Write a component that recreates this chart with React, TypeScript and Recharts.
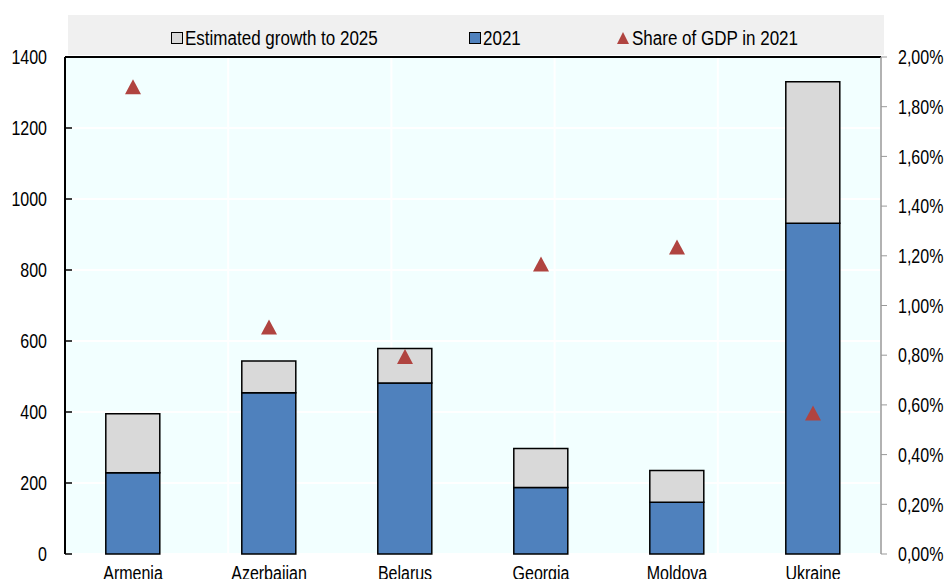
import { ComposedChart, Bar, Line, XAxis, YAxis, CartesianGrid, ReferenceLine } from 'recharts'

const countries = ['Armenia', 'Azerbaijan', 'Belarus', 'Georgia', 'Moldova', 'Ukraine']
const value2021 = [229, 454, 482, 187, 146, 932]
const growthTo2025 = [166, 90, 97, 110, 89, 398]
const gdpShare = [1.88, 0.913, 0.795, 1.167, 1.235, 0.567]

const leftTicks = [0, 200, 400, 600, 800, 1000, 1200, 1400]
const rightTicks = [0, 0.2, 0.4, 0.6, 0.8, 1.0, 1.2, 1.4, 1.6, 1.8, 2.0]
const boundaryTicks = [1, 2, 3, 4, 5]

const data = countries.map((c, i) => ({
  country: c,
  v2021: value2021[i],
  growth: growthTo2025[i],
  share: gdpShare[i],
}))

const FONT = '"Liberation Sans", Arial, sans-serif'
const SQUEEZE = 0.8
const BLUE = '#4f81bd'
const GREY = '#d9d9d9'
const RED = '#b04440'

const pct = (v: number) => v.toFixed(2).replace('.', ',') + '%'

// Arial Narrow look-alike: regular sans squeezed horizontally
function NarrowTick(props: any) {
  const { x, y, payload, textAnchor, fmt, dy } = props
  const label = fmt ? fmt(payload.value) : payload.value
  return (
    <text
      transform={`translate(${x},${y}) scale(${SQUEEZE},1)`}
      x={0}
      y={0}
      dy={dy ?? '0.36em'}
      textAnchor={textAnchor}
      fontFamily={FONT}
      fontSize={20}
      fill="#000"
    >
      {label}
    </text>
  )
}

const Blank = () => <g />

function Triangle(props: any) {
  const { cx, cy } = props
  if (cx == null || cy == null) return null
  return <path d={`M${cx - 8},${cy + 7.5} L${cx},${cy - 7.5} L${cx + 8},${cy + 7.5} Z`} fill={RED} />
}

function LegendItem({ left, icon, label }: { left: number; icon: any; label: string }) {
  return (
    <div style={{ position: 'absolute', left, top: 3, height: 40, display: 'flex', alignItems: 'center' }}>
      {icon}
      <span style={{ display: 'inline-block', transform: `scaleX(${SQUEEZE + 0.05})`, transformOrigin: 'left center', whiteSpace: 'nowrap' }}>
        {label}
      </span>
    </div>
  )
}

function Legend() {
  const box = (fill: string) => (
    <span style={{ width: 10, height: 10, background: fill, border: '1px solid #000', marginRight: 2 }} />
  )
  return (
    <div
      style={{
        position: 'absolute',
        left: 68,
        top: 15,
        width: 816,
        height: 40,
        background: '#f0f0f0',
        fontFamily: FONT,
        fontSize: 20,
        color: '#000',
      }}
    >
      <LegendItem left={103} icon={box(GREY)} label="Estimated growth to 2025" />
      <LegendItem left={401} icon={box(BLUE)} label="2021" />
      <LegendItem
        left={549}
        icon={
          <svg width={12} height={12} style={{ marginRight: 3 }}>
            <path d="M0,12 L6,0 L12,12 Z" fill={RED} />
          </svg>
        }
        label="Share of GDP in 2021"
      />
    </div>
  )
}

export default function App() {
  return (
    <div style={{ position: 'absolute', left: 0, top: 0, width: 946, height: 579, background: '#fff' }}>
      <ComposedChart
        width={946}
        height={579}
        data={data}
        margin={{ top: 57, right: 0, bottom: 0, left: 0 }}
        barCategoryGap="30%"
      >
        <CartesianGrid xAxisId="edge" yAxisId="left" stroke="#ffffff" strokeWidth={2} fill="#f2ffff" />
        <XAxis
          xAxisId="edge"
          type="number"
          domain={[0, 6]}
          ticks={boundaryTicks}
          height={0}
          tickSize={-5}
          tick={<Blank />}
          tickLine={{ stroke: '#000', strokeWidth: 1.5 }}
          axisLine={{ stroke: '#000', strokeWidth: 2 }}
        />
        <XAxis
          xAxisId="cat"
          dataKey="country"
          height={25}
          tickLine={false}
          axisLine={false}
          tickMargin={2}
          tick={<NarrowTick dy="0.9em" />}
          interval={0}
        />
        <YAxis
          yAxisId="left"
          width={65}
          domain={[0, 1400]}
          ticks={leftTicks}
          tickSize={-7}
          tickMargin={25}
          tick={<NarrowTick />}
          tickLine={{ stroke: '#000', strokeWidth: 1.5 }}
          axisLine={{ stroke: '#000', strokeWidth: 2 }}
        />
        <YAxis
          yAxisId="right"
          orientation="right"
          width={65}
          domain={[0, 2]}
          ticks={rightTicks}
          tickSize={6}
          tickMargin={11}
          tick={<NarrowTick fmt={pct} />}
          tickLine={{ stroke: '#999' }}
          axisLine={{ stroke: '#999', strokeWidth: 1.5 }}
        />
        <ReferenceLine xAxisId="cat" yAxisId="left" y={1400} stroke="#000" strokeWidth={2} />
        <Bar xAxisId="cat" yAxisId="left" dataKey="v2021" stackId="a" fill={BLUE} stroke="#000" strokeWidth={1.5} isAnimationActive={false} />
        <Bar xAxisId="cat" yAxisId="left" dataKey="growth" stackId="a" fill={GREY} stroke="#000" strokeWidth={1.5} isAnimationActive={false} />
        <Line
          xAxisId="cat"
          yAxisId="right"
          dataKey="share"
          stroke="none"
          dot={<Triangle />}
          activeDot={false}
          isAnimationActive={false}
        />
      </ComposedChart>
      <Legend />
    </div>
  )
}
